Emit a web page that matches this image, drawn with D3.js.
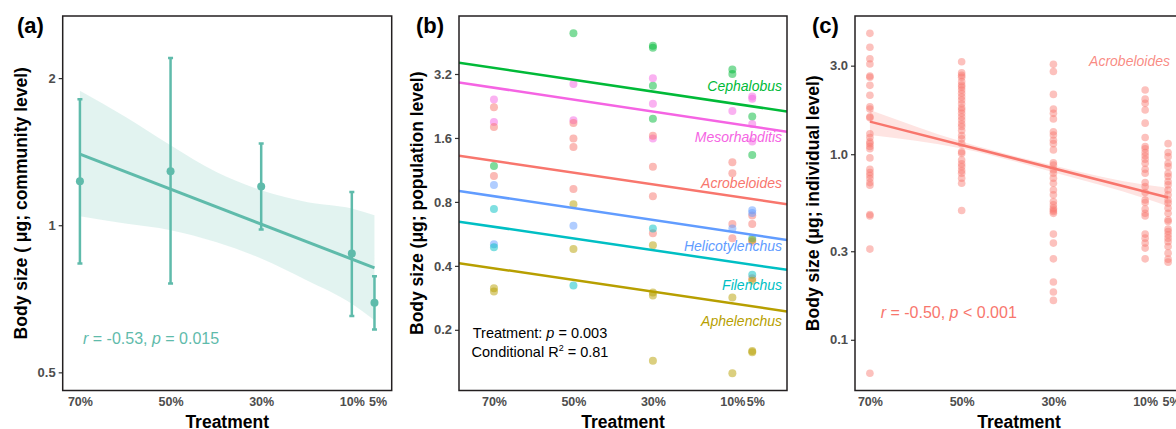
<!DOCTYPE html>
<html>
<head>
<meta charset="utf-8" />
<title>Body size vs treatment</title>
<script src="https://cdn.jsdelivr.net/npm/d3@7"></script>
<style>
body { margin: 0; background: #fff; }
svg text { font-family: "Liberation Sans", Arial, sans-serif; }
</style>
</head>
<body>
<div id="chart"></div>
<script>
// treatment levels (x axis, reversed)
const treatments = [70, 50, 30, 10, 5];
const tickLabels = ["70%", "50%", "30%", "10%", "5%"];

// (a) community level: mean and error bars
const commMean  = [1.23, 1.29, 1.20, 0.875, 0.694];
const commUpper = [1.81, 2.20, 1.47, 1.17, 0.786];
const commLower = [0.835, 0.76, 0.98, 0.652, 0.612];
const commFitX = [70, 5];
const commFit  = [1.398, 0.818];
const commBandX  = [70, 60, 50, 40, 30, 20, 10, 5];
const commBandHi = [1.884, 1.667, 1.458, 1.286, 1.179, 1.116, 1.082, 1.048];
const commBandLo = [1.043, 1.008, 0.977, 0.924, 0.855, 0.772, 0.691, 0.639];
const commTicks = [0.5, 1, 2];

// (b) population level, one array per genus: [treatment, value]
const genera = ["Cephalobus", "Mesorhabditis", "Acrobeloides", "Helicotylenchus", "Filenchus", "Aphelenchus"];
const genusColors = ["#00BA38", "#F564E3", "#F8766D", "#619CFF", "#00BFC4", "#B79F00"];
const cephalobus = [[70,1.18],[50,4.98],[30,4.35],[30,4.25],[30,2.82],[30,1.97],[10,3.36],[10,3.2],[5,2.02],[5,1.33]];
const mesorhabditis = [[70,2.43],[70,1.9],[50,2.87],[50,1.94],[30,3.06],[30,2.32],[30,1.59],[10,2.14],[5,2.51],[5,2.45],[5,1.86],[5,1.54]];
const acrobeloides = [[70,2.23],[70,1.8],[70,1.06],[50,1.88],[50,1.59],[50,1.45],[50,0.92],[30,1.64],[30,1.17],[30,0.85],[30,0.57],[10,1.23],[10,1.09],[10,0.63],[10,0.54],[5,0.69],[5,0.63],[5,0.52],[5,0.35]];
const helicotylenchus = [[70,0.96],[70,0.505],[50,0.617],[10,0.6],[5,0.73],[5,0.71]];
const filenchus = [[70,0.74],[70,0.49],[50,0.323],[30,0.6],[5,0.54],[5,0.363]];
const aphelenchus = [[70,0.314],[70,0.303],[50,0.78],[50,0.48],[30,0.5],[30,0.30],[30,0.29],[30,0.143],[10,0.284],[10,0.125],[5,0.53],[5,0.34],[5,0.159],[5,0.157]];
// fitted lines, value at left and right panel edge
const popLineX = [78.8, -3.75];
const popLineStart = [3.62, 2.92, 1.32, 0.90, 0.646, 0.412];
const popLineEnd   = [2.13, 1.71, 0.78, 0.53, 0.383, 0.244];
const popLabelY    = [2.81, 1.62, 0.985, 0.497, 0.323, 0.220];
const popTicks = [0.2, 0.4, 0.8, 1.6, 3.2];

// (c) individual level, Acrobeloides
const ind70 = [4.48, 3.77, 3.27, 3.06, 2.64, 2.60, 2.35, 2.08, 1.80, 1.75, 1.59, 1.57, 1.29, 1.23, 1.165, 1.14, 1.10, 1.07, 0.955, 0.83, 0.796, 0.77, 0.74, 0.703, 0.68, 0.473, 0.465, 0.308, 0.066];
const ind50 = [3.15, 2.75, 2.66, 2.60, 2.46, 2.36, 2.30, 2.22, 2.13, 2.04, 1.96, 1.87, 1.78, 1.73, 1.66, 1.59, 1.53, 1.46, 1.41, 1.34, 1.26, 1.21, 1.14, 1.03, 1.01, 0.93, 0.887, 0.857, 0.816, 0.79, 0.743, 0.698, 0.497];
const ind30 = [3.05, 2.79, 2.10, 1.75, 1.66, 1.55, 1.32, 1.27, 1.19, 1.14, 1.055, 0.90, 0.873, 0.823, 0.79, 0.743, 0.698, 0.642, 0.604, 0.556, 0.533, 0.512, 0.50, 0.491, 0.48, 0.371, 0.332, 0.273, 0.205, 0.181, 0.163];
const ind10 = [2.22, 1.98, 1.88, 1.73, 1.47, 1.23, 1.10, 1.07, 1.02, 0.98, 0.94, 0.894, 0.83, 0.79, 0.703, 0.669, 0.621, 0.567, 0.549, 0.506, 0.481, 0.465, 0.371, 0.353, 0.332, 0.312, 0.273];
const ind5  = [1.14, 1.02, 0.97, 0.894, 0.857, 0.79, 0.758, 0.712, 0.684, 0.642, 0.604, 0.567, 0.545, 0.512, 0.481, 0.443, 0.434, 0.395, 0.383, 0.368, 0.353, 0.338, 0.318, 0.293, 0.272, 0.262];
const indFitX = [70, 5];
const indFit  = [1.498, 0.584];
const indBandX  = [70, 50, 30, 10, 5];
const indBandHi = [1.733, 1.17, 0.87, 0.685, 0.66];
const indBandLo = [1.27, 1.075, 0.80, 0.578, 0.525];
const indTicks = [0.1, 0.3, 1.0, 3.0];

const W = 1176, H = 429;
const plotTop = 16, plotBottom = 390.5;
const teal = "#5FBBAB", red = "#F8766D";
const font = "'Liberation Sans', Arial, sans-serif";

const svg = d3.select("#chart").append("svg")
	.attr("width", W)
	.attr("height", H);

function panel(id, x0, x1, xDomain, yDomain, ticks, tickFmt, yTitle, letter, letterX) {
	const x = d3.scaleLinear().domain(xDomain).range([x0, x1]);
	const y = d3.scaleLog().domain(yDomain).range([plotBottom, plotTop]);
	svg.append("clipPath").attr("id", "clip-" + id)
		.append("rect").attr("x", x0).attr("y", plotTop).attr("width", x1 - x0).attr("height", plotBottom - plotTop);
	const g = svg.append("g");
	const plot = g.append("g").attr("clip-path", "url(#clip-" + id + ")");

	// y axis ticks + labels
	const yAxis = g.append("g").attr("transform", "translate(" + x0 + ",0)")
		.call(d3.axisLeft(y).tickValues(ticks).tickFormat(tickFmt).tickSize(4).tickPadding(3));
	yAxis.select(".domain").remove();
	yAxis.selectAll("line").attr("stroke", "#333").attr("stroke-width", 1.2);
	yAxis.selectAll("text").attr("fill", "#4D4D4D").attr("font-weight", "bold")
		.attr("font-size", 13).attr("font-family", font);

	// x tick labels (no tick marks); the 5% label sits a little right of its neighbour
	const xAxis = g.append("g").attr("transform", "translate(0," + plotBottom + ")")
		.call(d3.axisBottom(x).tickValues(treatments).tickFormat((d, i) => tickLabels[i]).tickSize(0).tickPadding(7));
	xAxis.select(".domain").remove();
	xAxis.selectAll("text").attr("fill", "#4D4D4D").attr("font-weight", "bold")
		.attr("font-size", 12.5).attr("font-family", font)
		.attr("dx", (d, i) => i === treatments.length - 1 ? 3 : 0);

	g.append("text").attr("x", (x0 + x1) / 2).attr("y", 428)
		.attr("text-anchor", "middle").attr("font-weight", "bold").attr("font-size", 17.5)
		.text("Treatment");
	g.append("text").attr("transform", "translate(" + (x0 - 36) + "," + ((plotTop + plotBottom) / 2) + ") rotate(-90)")
		.attr("text-anchor", "middle").attr("font-weight", "bold").attr("font-size", 17.5)
		.text(yTitle);
	g.append("text").attr("x", letterX).attr("y", 33)
		.attr("font-weight", "bold").attr("font-size", 22).text(letter);

	return {x: x, y: y, g: g, plot: plot, frame: function() {
		g.append("rect").attr("x", x0).attr("y", plotTop).attr("width", x1 - x0).attr("height", plotBottom - plotTop)
			.attr("fill", "none").attr("stroke", "#231F20").attr("stroke-width", 1.5);
	}};
}

// ---------- (a) ----------
const pa = panel("a", 62.7, 391.7, [73.8, 1.2], [0.459, 2.68], commTicks, d3.format(""),
	"Body size ( μg; community level)", "(a)", 17);
pa.plot.append("path")
	.datum(commBandX.map((t, i) => [t, commBandLo[i], commBandHi[i]]))
	.attr("fill", teal).attr("fill-opacity", 0.18)
	.attr("d", d3.area().curve(d3.curveMonotoneX).x(d => pa.x(d[0])).y0(d => pa.y(d[1])).y1(d => pa.y(d[2])));
pa.plot.append("path")
	.datum(commFitX.map((t, i) => [t, commFit[i]]))
	.attr("fill", "none").attr("stroke", teal).attr("stroke-width", 3)
	.attr("d", d3.line().x(d => pa.x(d[0])).y(d => pa.y(d[1])));
const eb = pa.plot.selectAll(".eb").data(treatments).enter().append("g");
eb.append("line")
	.attr("x1", d => pa.x(d)).attr("x2", d => pa.x(d))
	.attr("y1", (d, i) => pa.y(commLower[i])).attr("y2", (d, i) => pa.y(commUpper[i]))
	.attr("stroke", teal).attr("stroke-width", 2.5);
[commLower, commUpper].forEach(arr => {
	eb.append("line")
		.attr("x1", d => pa.x(d) - 2.5).attr("x2", d => pa.x(d) + 2.5)
		.attr("y1", (d, i) => pa.y(arr[i])).attr("y2", (d, i) => pa.y(arr[i]))
		.attr("stroke", teal).attr("stroke-width", 2.5);
});
eb.append("circle")
	.attr("cx", d => pa.x(d)).attr("cy", (d, i) => pa.y(commMean[i])).attr("r", 4)
	.attr("fill", teal);
pa.g.append("text").attr("x", 83).attr("y", 344).attr("font-size", 16).attr("fill", teal)
	.html('<tspan font-style="italic">r</tspan> = -0.53, <tspan font-style="italic">p</tspan> = 0.015');
pa.frame();

// ---------- (b) ----------
const pb = panel("b", 459, 787, [78.8, -3.75], [0.1036, 6.0], popTicks, d3.format(""),
	"Body size (μg; population level)", "(b)", 416);
const popSeries = [cephalobus, mesorhabditis, acrobeloides, helicotylenchus, filenchus, aphelenchus];
popSeries.forEach((pts, k) => {
	pb.plot.selectAll(null).data(pts).enter().append("circle")
		.attr("cx", d => pb.x(d[0])).attr("cy", d => pb.y(d[1])).attr("r", 4)
		.attr("fill", genusColors[k]).attr("fill-opacity", 0.5);
});
genera.forEach((name, k) => {
	pb.plot.append("line")
		.attr("x1", pb.x(popLineX[0])).attr("x2", pb.x(popLineX[1]))
		.attr("y1", pb.y(popLineStart[k])).attr("y2", pb.y(popLineEnd[k]))
		.attr("stroke", genusColors[k]).attr("stroke-width", 2.5);
	pb.g.append("text").attr("x", 782).attr("y", pb.y(popLabelY[k]))
		.attr("dy", "0.35em").attr("text-anchor", "end")
		.attr("font-size", 14).attr("font-style", "italic").attr("fill", genusColors[k])
		.text(name);
});
pb.g.append("text").attr("x", 540).attr("y", 338).attr("text-anchor", "middle").attr("font-size", 14.5)
	.html('Treatment: <tspan font-style="italic">p</tspan> = 0.003');
pb.g.append("text").attr("x", 540).attr("y", 357).attr("text-anchor", "middle").attr("font-size", 14.5)
	.html('Conditional R<tspan font-size="9" dy="-6">2</tspan><tspan dy="6"> = 0.81</tspan>');
pb.frame();

// ---------- (c) ----------
const pc = panel("c", 855, 1183, [73.25, 1.75], [0.0533, 5.556], indTicks, d3.format(".1f"),
	"Body size (μg; individual level)", "(c)", 812);
pc.plot.append("path")
	.datum(indBandX.map((t, i) => [t, indBandLo[i], indBandHi[i]]))
	.attr("fill", red).attr("fill-opacity", 0.2)
	.attr("d", d3.area().curve(d3.curveMonotoneX).x(d => pc.x(d[0])).y0(d => pc.y(d[1])).y1(d => pc.y(d[2])));
[ind70, ind50, ind30, ind10, ind5].forEach((vals, i) => {
	pc.plot.selectAll(null).data(vals).enter().append("circle")
		.attr("cx", pc.x(treatments[i])).attr("cy", d => pc.y(d)).attr("r", 3.8)
		.attr("fill", red).attr("fill-opacity", 0.45);
});
pc.plot.append("path")
	.datum(indFitX.map((t, i) => [t, indFit[i]]))
	.attr("fill", "none").attr("stroke", red).attr("stroke-width", 2.5)
	.attr("d", d3.line().x(d => pc.x(d[0])).y(d => pc.y(d[1])));
pc.g.append("text").attr("x", 1170).attr("y", 61).attr("dy", "0.35em").attr("text-anchor", "end")
	.attr("font-size", 14).attr("font-style", "italic").attr("fill", red).attr("fill-opacity", 0.85)
	.text("Acrobeloides");
pc.g.append("text").attr("x", 880.7).attr("y", 318).attr("font-size", 16).attr("fill", red)
	.html('<tspan font-style="italic">r</tspan> = -0.50, <tspan font-style="italic">p</tspan> &lt; 0.001');
pc.frame();
</script>
</body>
</html>
